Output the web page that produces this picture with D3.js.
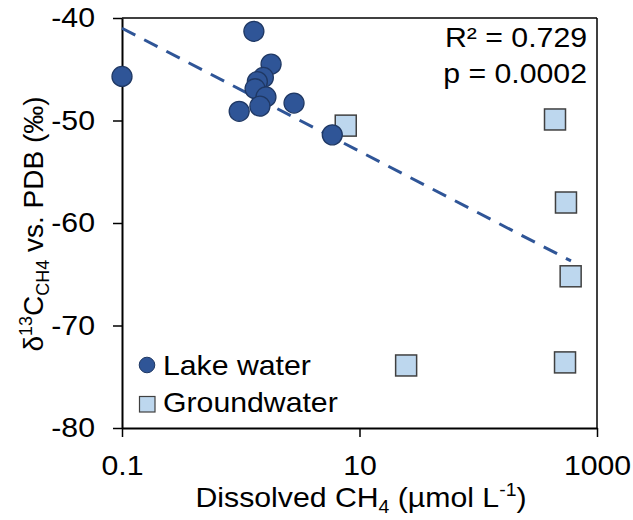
<!DOCTYPE html>
<html>
<head>
<meta charset="utf-8">
<script src="https://cdn.jsdelivr.net/npm/d3@7"></script>
<style>
  html, body { margin: 0; padding: 0; background: #fff; }
  svg { display: block; font-family: "Liberation Sans", Arial, sans-serif; }
</style>
</head>
<body>
<svg id="chart" width="633" height="520"></svg>
<script>
// ---- data ----
const lakeX = [0.1, 1.29, 1.80, 1.55, 1.38, 1.32, 1.63, 1.45, 0.97, 2.81, 5.90];
const lakeY = [-45.7, -41.3, -44.5, -45.8, -46.2, -46.9, -47.7, -48.6, -49.1, -48.3, -51.4];

const groundX = [7.66, 443, 548, 600, 24.7, 538];
const groundY = [-50.5, -49.9, -58.0, -65.2, -73.9, -73.6];

const trendX = [0.1, 604];
const trendY = [-41.0, -63.7];

const xTickValues = [0.1, 10, 1000];
const xTickLabels = ["0.1", "10", "1000"];
const yTickValues = [-80, -70, -60, -50, -40];
const yTickLabels = ["-80", "-70", "-60", "-50", "-40"];

const statLines = ["R\u00B2 = 0.729", "p = 0.0002"];
const seriesNames = ["Lake water", "Groundwater"];

// ---- layout ----
const L = 122, R = 597, T = 18, B = 428;
const FONT = 28;
const SX = 1.08; // horizontal stretch of the reference's text
const lakeFill = "#2F5597", lakeStroke = "#1F3864";
const gwFill = "#BDD7EE", gwStroke = "#404040";

const svg = d3.select("#chart");

const x = d3.scaleLog().domain([0.1, 1000]).range([L, R]);
const y = d3.scaleLinear().domain([-80, -40]).range([B, T]);

// helper: stretched text at an anchor point
function stext(parent, px, py, anchor) {
  return parent.append("text")
    .attr("transform", `translate(${px},${py}) scale(${SX},1)`)
    .attr("text-anchor", anchor || "start")
    .attr("font-size", FONT).attr("fill", "#000");
}

// frame (top & right)
svg.append("line").attr("x1", L).attr("x2", R).attr("y1", T).attr("y2", T)
  .attr("stroke", "#000").attr("stroke-width", 1.5);
svg.append("line").attr("x1", R).attr("x2", R).attr("y1", T).attr("y2", B)
  .attr("stroke", "#000").attr("stroke-width", 1.5);

// y axis
const yAxis = svg.append("g").attr("transform", `translate(${L},0)`)
  .call(d3.axisLeft(y).tickValues(yTickValues).tickSize(9).tickSizeOuter(0).tickPadding(18)
    .tickFormat((d, i) => yTickLabels[i]));
// x axis
const xAxis = svg.append("g").attr("transform", `translate(0,${B})`)
  .call(d3.axisBottom(x).tickValues(xTickValues).tickSize(9).tickSizeOuter(0).tickPadding(18)
    .tickFormat((d, i) => xTickLabels[i]));

[yAxis, xAxis].forEach(g => {
  g.select(".domain").attr("stroke", "#000").attr("stroke-width", 2);
  g.selectAll(".tick line").attr("stroke", "#000").attr("stroke-width", 1.5);
  g.selectAll(".tick text").attr("fill", "#000").attr("font-size", FONT)
    .attr("font-family", '"Liberation Sans", Arial, sans-serif')
    .each(function () {
      const t = d3.select(this);
      const tx = +t.attr("x") || 0, ty = +t.attr("y") || 0;
      t.attr("x", 0).attr("y", 0)
        .attr("transform", `translate(${tx},${ty}) scale(${SX},1)`);
    });
});

// trend line
svg.append("path")
  .datum(trendX.map((d, i) => [d, trendY[i]]))
  .attr("d", d3.line().x(d => x(d[0])).y(d => y(d[1])))
  .attr("fill", "none").attr("stroke", "#2F5597").attr("stroke-width", 3)
  .attr("stroke-dasharray", "15,10");

// groundwater squares
const S = 21;
svg.append("g").selectAll("rect")
  .data(groundX.map((d, i) => [d, groundY[i]]))
  .join("rect")
  .attr("x", d => x(d[0]) - S / 2).attr("y", d => y(d[1]) - S / 2)
  .attr("width", S).attr("height", S)
  .attr("fill", gwFill).attr("stroke", gwStroke).attr("stroke-width", 1.5);

// lake circles
svg.append("g").selectAll("circle")
  .data(lakeX.map((d, i) => [d, lakeY[i]]))
  .join("circle")
  .attr("cx", d => x(d[0])).attr("cy", d => y(d[1])).attr("r", 10)
  .attr("fill", lakeFill).attr("stroke", lakeStroke).attr("stroke-width", 1.3);

// stats
statLines.forEach((s, i) => stext(svg, 587, 47 + i * 36, "end").text(s));

// legend
svg.append("circle").attr("cx", 147).attr("cy", 365).attr("r", 7.8)
  .attr("fill", lakeFill).attr("stroke", lakeStroke).attr("stroke-width", 1);
svg.append("rect").attr("x", 139.5).attr("y", 396.5).attr("width", 15.5).attr("height", 15.5)
  .attr("fill", gwFill).attr("stroke", gwStroke).attr("stroke-width", 1.2);
seriesNames.forEach((s, i) => stext(svg, 163, 375 + i * 37, "start").text(s));

// x title
const xt = stext(svg, 361, 507, "middle");
xt.append("tspan").text("Dissolved CH");
xt.append("tspan").attr("font-size", 18).attr("dy", 6).text("4");
xt.append("tspan").attr("dy", -6).text(" (\u00B5mol L");
xt.append("tspan").attr("font-size", 18).attr("dy", -11).text("-1");
xt.append("tspan").attr("dy", 11).text(")");

// y title
const yt = svg.append("text").attr("transform", "translate(43,224) rotate(-90)")
  .attr("text-anchor", "middle").attr("font-size", FONT).attr("fill", "#000");
yt.append("tspan").text("\u03B4");
yt.append("tspan").attr("font-size", 18).attr("dy", -11).text("13");
yt.append("tspan").attr("dy", 11).text("C");
yt.append("tspan").attr("font-size", 18).attr("dy", 6).text("CH4");
yt.append("tspan").attr("dy", -6).text(" vs. PDB (\u2030)");
</script>
</body>
</html>
